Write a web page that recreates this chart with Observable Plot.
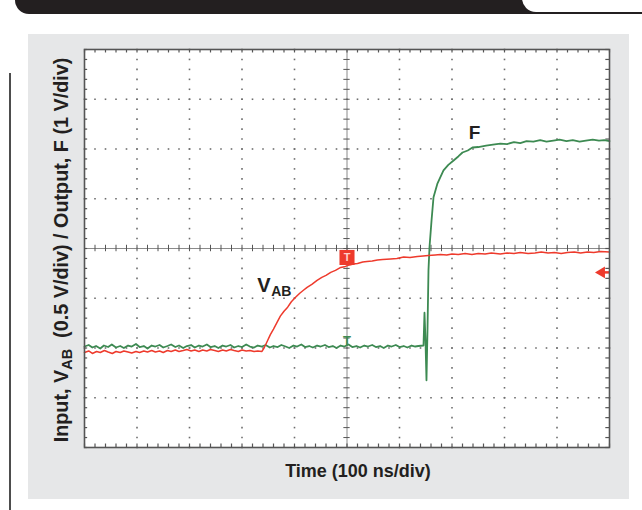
<!DOCTYPE html>
<html>
<head>
<meta charset="utf-8">
<script src="https://cdn.jsdelivr.net/npm/d3@7"></script>
<script src="https://cdn.jsdelivr.net/npm/@observablehq/plot@0.6"></script>
<style>
  html, body { margin: 0; padding: 0; background: #ffffff; }
  #wrap { position: relative; width: 642px; height: 510px; overflow: hidden; font-family: "Liberation Sans", Arial, sans-serif; }
  .blk { position: absolute; }
</style>
</head>
<body>
<div id="wrap">
  <div class="blk" style="left:15px; top:0; width:627px; height:14px; background:#231f20; border-bottom-left-radius:16px;"></div>
  <div class="blk" style="left:522px; top:-4px; width:130px; height:16px; background:#ffffff; border-bottom-left-radius:14px;"></div>
  <div class="blk" style="left:28px; top:34px; width:601px; height:465px; background:#e6e7e8;"></div>
  <div class="blk" style="left:9px; top:73px; width:2px; height:437px; background:#4d4d4d;"></div>
</div>
<script>
// Time in ns (100 ns/div, 10 div), vertical position in screen divisions (8 div, centre = 0)
const redT = [0,8,15,23,30,38,45,53,60,68,75,83,90,98,105,113,120,128,135,143,150,158,165,173,180,188,195,203,210,218,225,233,240,248,255,263,270,278,285,293,300,308,315,323,330,338,
  342,347,354,360,366,373,380,387,394,402,410,417,424,433,443,452,460,469,478,488,497,505,512,520,530,538,548,558,568,583,595,608,620,634,645,655,668,678,690,700,712,725,738,750,763,775,792,805,818,830,845,858,870,883,895,908,920,933,945,958,970,983,1000];
const redV = [-2.09,-2.06,-2.11,-2.07,-2.09,-2.05,-2.08,-2.11,-2.07,-2.09,-2.06,-2.08,-2.10,-2.07,-2.09,-2.06,-2.08,-2.05,-2.08,-2.06,-2.09,-2.05,-2.07,-2.04,-2.07,-2.05,-2.03,-2.06,-2.04,-2.07,-2.04,-2.06,-2.03,-2.05,-2.07,-2.04,-2.06,-2.03,-2.05,-2.07,-2.04,-2.06,-2.05,-2.07,-2.06,-2.07,
  -2.00,-1.89,-1.73,-1.62,-1.50,-1.36,-1.26,-1.18,-1.07,-0.98,-0.90,-0.84,-0.78,-0.72,-0.64,-0.58,-0.54,-0.48,-0.44,-0.38,-0.36,-0.33,-0.31,-0.30,-0.27,-0.26,-0.25,-0.23,-0.22,-0.21,-0.20,-0.17,-0.18,-0.16,-0.15,-0.14,-0.13,-0.12,-0.13,-0.11,-0.12,-0.10,-0.12,-0.10,-0.11,-0.09,-0.11,-0.09,-0.10,-0.08,-0.10,-0.09,-0.07,-0.09,-0.08,-0.10,-0.08,-0.07,-0.09,-0.07,-0.08,-0.06,-0.07];

const greenT = [0,8,15,22,30,37,45,52,60,68,75,83,90,98,105,113,120,128,135,143,150,158,165,173,180,188,195,203,210,218,225,233,240,248,255,263,270,278,285,293,300,308,315,323,330,338,345,353,360,368,375,383,390,398,405,413,420,428,435,443,450,458,465,473,480,488,495,503,510,518,525,533,540,548,555,563,570,578,585,593,600,608,615,623,630,636,
  645.7,647.6,649.5,651.4,653.3,655.2,657.1,661,664.8,672.4,683.8,693,703,712,720,730,739,750,765,778,792,805,818,830,842,855,868,880,893,905,918,930,943,955,968,980,990,1000];
const greenV = [-1.97,-1.94,-1.99,-1.96,-2.01,-1.95,-1.98,-1.93,-1.99,-1.96,-2.00,-1.95,-1.97,-1.92,-1.98,-1.96,-2.01,-1.95,-1.97,-1.94,-1.99,-1.96,-1.93,-1.98,-1.95,-2.00,-1.96,-1.94,-1.99,-1.95,-1.97,-1.93,-1.98,-1.96,-2.00,-1.95,-1.97,-1.94,-1.99,-1.96,-1.98,-1.93,-1.97,-1.99,-1.95,-1.97,-1.94,-1.99,-1.96,-1.98,-1.94,-1.97,-2.00,-1.95,-1.97,-1.93,-1.98,-1.96,-1.99,-1.95,-1.97,-1.94,-1.98,-1.96,-2.00,-1.95,-1.97,-1.93,-1.98,-1.96,-1.99,-1.95,-1.97,-1.94,-1.98,-1.96,-2.00,-1.95,-1.97,-1.94,-1.98,-1.96,-1.99,-1.95,-1.97,-1.96,
  -1.95,-1.29,-1.85,-2.65,-1.65,-0.44,0.02,0.56,1.03,1.31,1.57,1.68,1.77,1.85,1.93,1.97,2.03,2.04,2.07,2.09,2.11,2.10,2.14,2.12,2.16,2.15,2.18,2.15,2.17,2.19,2.16,2.18,2.15,2.17,2.19,2.17,2.18,2.16];

// Trigger markers and trigger-level arrow
const trigTime = 500;
const trigRedLevel = -0.18;
const trigGreenLevel = -1.79;
const trigArrowLevel = -0.48;

// Trace labels
const labelV = {t: 329, v: -0.88};
const labelF = {t: 732, v: 2.2};

// Graticule
const xMajor = d3.range(0, 1001, 100);
const xMinor = d3.range(0, 1001, 20);
const yMajor = d3.range(-4, 4.001, 1);
const yMinor = d3.range(-4, 4.001, 0.2);

const red = redT.map((t, i) => ({t, v: redV[i]}));
const green = greenT.map((t, i) => ({t, v: greenV[i]}));
const gridDots = [
  ...d3.cross(xMajor.filter(x => x !== 500 && x > 0 && x < 1000), yMinor).map(([t, v]) => ({t, v})),
  ...d3.cross(xMinor, yMajor.filter(y => y !== 0 && y > -4 && y < 4)).map(([t, v]) => ({t, v}))
];

const RED = "#ee3a2c";
const GREEN = "#3d8a52";
const GRID = "#6d6d6d";

const plot = Plot.plot({
  width: 642,
  height: 510,
  marginLeft: 84,
  marginRight: 33,
  marginTop: 49,
  marginBottom: 63,
  x: {domain: [0, 1000], axis: null},
  y: {domain: [-4, 4], axis: null},
  style: {position: "absolute", left: "0px", top: "0px", background: "transparent", fontFamily: "Liberation Sans, Arial, sans-serif"},
  marks: [
    Plot.frame({fill: "#ffffff", stroke: null}),
    Plot.dot(gridDots, {x: "t", y: "v", symbol: "square", r: 0.9, fill: GRID, stroke: null}),
    // centre axes with ticks
    Plot.ruleY([0], {stroke: "#8a8a8a", strokeWidth: 1}),
    Plot.ruleX([trigTime], {stroke: "#8a8a8a", strokeWidth: 1}),
    Plot.ruleX(xMinor, {y1: -0.065, y2: 0.065, stroke: "#555", strokeWidth: 1}),
    Plot.ruleY(yMinor, {x1: trigTime - 6, x2: trigTime + 6, stroke: "#555", strokeWidth: 1}),
    // border ticks
    Plot.ruleX(xMinor, {y1: 4, y2: 3.93, stroke: "#555", strokeWidth: 1.2}),
    Plot.ruleX(xMinor, {y1: -4, y2: -3.93, stroke: "#555", strokeWidth: 1.2}),
    Plot.ruleY(yMinor, {x1: 0, x2: 6, stroke: "#555", strokeWidth: 1.2}),
    Plot.ruleY(yMinor, {x1: 1000, x2: 993, stroke: "#555", strokeWidth: 1.2}),
    // traces
    Plot.line(green, {x: "t", y: "v", stroke: GREEN, strokeWidth: 1.8, curve: "linear"}),
    Plot.line(red, {x: "t", y: "v", stroke: RED, strokeWidth: 1.5, curve: "linear"}),
    // trigger markers
    Plot.dot([{t: trigTime, v: trigRedLevel}], {x: "t", y: "v", symbol: "square", r: 8.5, fill: RED, stroke: null}),
    Plot.text([{t: trigTime, v: trigRedLevel}], {x: "t", y: "v", text: () => "T", fill: "#ffd0c8", fontSize: 11, fontWeight: "bold"}),
    Plot.text([{t: trigTime, v: trigGreenLevel}], {x: "t", y: "v", text: () => "T", fill: GREEN, fontSize: 13, fontWeight: "bold", dy: 3}),
    // trigger level arrow at the right edge
    Plot.ruleY([trigArrowLevel], {x1: 986, x2: 1000, stroke: RED, strokeWidth: 2.5}),
    Plot.dot([{t: 985, v: trigArrowLevel}], {x: "t", y: "v", symbol: "triangle2", r: 5.5, rotate: -90, fill: RED, stroke: null}),
    // trace labels
    Plot.text([labelV], {x: "t", y: "v", text: () => "V", textAnchor: "start", fontSize: 20, fontWeight: "bold", fill: "#231f20", lineAnchor: "bottom"}),
    Plot.text([labelV], {x: "t", y: "v", text: () => "AB", textAnchor: "start", fontSize: 14, fontWeight: "bold", fill: "#231f20", lineAnchor: "bottom", dx: 14, dy: 4}),
    Plot.text([labelF], {x: "t", y: "v", text: () => "F", textAnchor: "start", fontSize: 19, fontWeight: "bold", fill: "#231f20", lineAnchor: "bottom"}),
    Plot.frame({stroke: "#555", strokeWidth: 1.6})
  ]
});

document.getElementById("wrap").appendChild(plot);

const svg = d3.select(plot);
const yl = svg.append("text")
  .attr("transform", "translate(68,250) rotate(-90)")
  .attr("text-anchor", "middle")
  .style("font-family", "Liberation Sans, Arial, sans-serif")
  .style("font-weight", "bold")
  .style("font-size", "19.8px")
  .attr("fill", "#231f20");
yl.append("tspan").text("Input, V");
yl.append("tspan").attr("dy", 4).style("font-size", "14.5px").text("AB");
yl.append("tspan").attr("dy", -4).text("\u00a0\u00a0(0.5 V/div) / Output, F (1 V/div)");

svg.append("text")
  .attr("x", 358).attr("y", 477)
  .attr("text-anchor", "middle")
  .style("font-family", "Liberation Sans, Arial, sans-serif")
  .style("font-weight", "bold")
  .style("font-size", "18px")
  .attr("fill", "#231f20")
  .text("Time (100 ns/div)");
</script>
</body>
</html>
